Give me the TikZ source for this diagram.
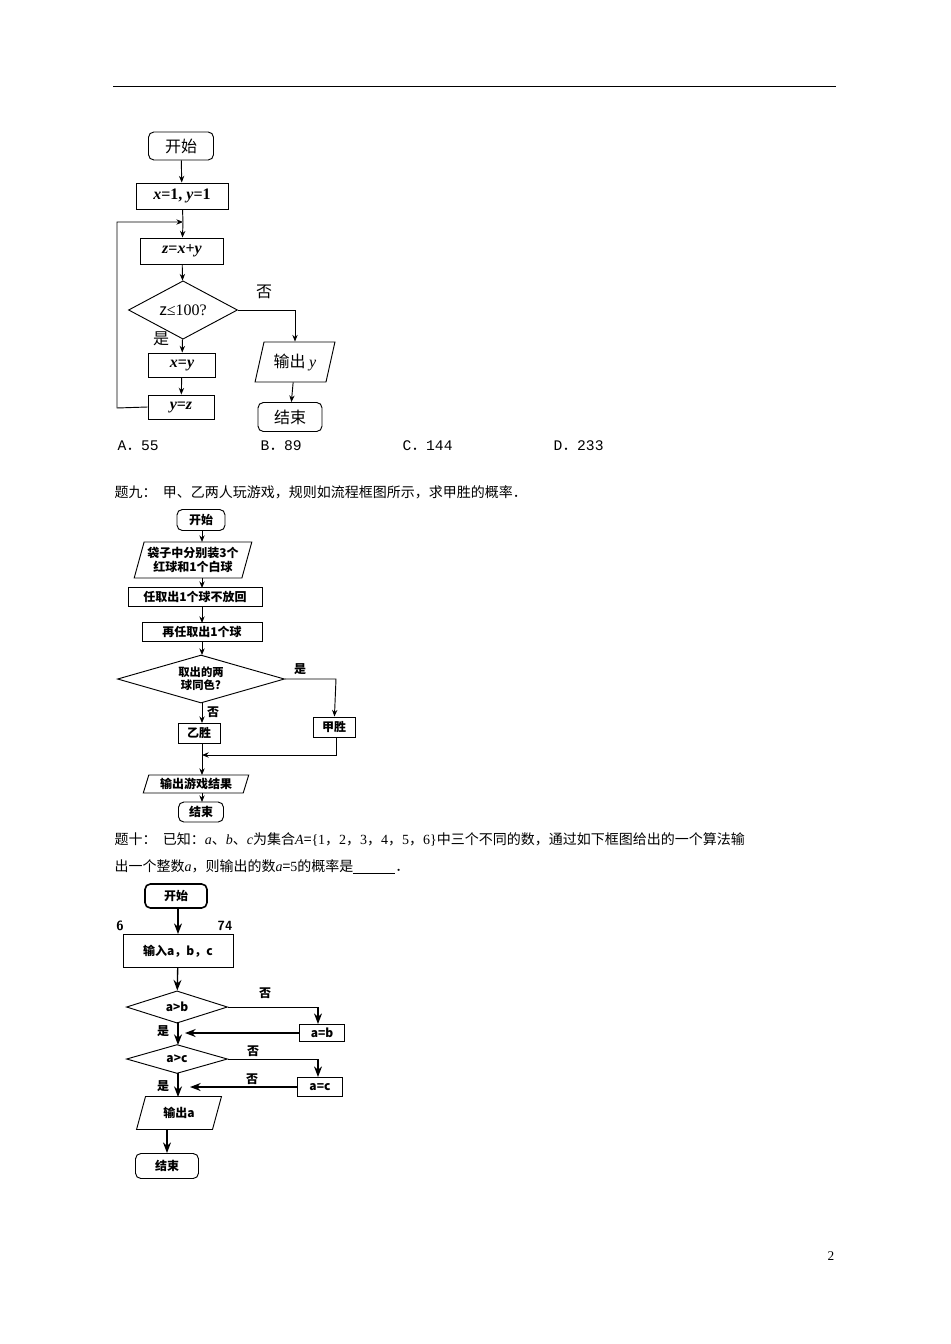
\documentclass[tikz,border=0pt]{standalone}
\usepackage{fontspec}
\setmainfont{Noto Sans CJK SC}
\newfontfamily\lat{Liberation Serif}
\newfontfamily\mono{Liberation Mono}
\usetikzlibrary{shapes.geometric,arrows.meta}
\begin{document}
\begin{tikzpicture}[x=0.75pt,y=-0.75pt,
  sz/.style 2 args={minimum width=#1*0.75pt, minimum height=#2*0.75pt, inner sep=0pt},
  bx/.style={draw, line width=0.7pt},
  rbx/.style={draw, line width=0.7pt, rounded corners=4pt},
  para/.style={draw, line width=0.7pt, trapezium, trapezium left angle=70, trapezium right angle=110, trapezium stretches=true},
  dia/.style={draw, line width=0.7pt, diamond, inner sep=0pt, shape aspect=1},
  ar/.style={-{Stealth[length=5pt,width=4pt]}, line width=0.7pt},
  arb/.style={-{Stealth[length=8pt,width=6pt]}, line width=1pt},
  ln/.style={line width=0.7pt}]
\useasboundingbox (0,0) rectangle (950,1344);
\draw[line width=0.6pt] (113,86) -- (836,86);
% ---------- chart 1
\begin{scope}[font=\fontsize{12}{14}\selectfont]
\node[rbx, sz={65}{28}] (s1) at (181,146) {开始};
\node[bx, sz={92}{26}] (i1) at (182,196) {\lat\bfseries\itshape x\upshape =1, \itshape y\upshape =1};
\node[bx, sz={83}{26}] (z1) at (182,251) {\lat\bfseries\itshape z\upshape =\itshape x\upshape +\itshape y};
\node[dia, sz={109}{52}] (d1) at (183,310) {z{\lat ≤}\lat 100?};
\node[bx, sz={67}{24}] (x1) at (182,365) {\lat\bfseries\itshape x\upshape =\itshape y};
\node[bx, sz={66}{24}] (y1) at (181,407) {\lat\bfseries\itshape y\upshape =\itshape z};
\node[para, sz={80}{40}] (o1) at (295,362) {输出 {\lat\itshape y}};
\node[rbx, sz={64}{29}] (e1) at (290,417) {结束};
\node (no1) at (264,292) {否};
\node (ye1) at (161,339) {是};
\coordinate (j1) at (183,222);
\coordinate (l1) at (117,222);
\coordinate (l2) at (117,408);
\coordinate (r1) at (295,310);
\draw[ar] (s1) -- (i1);
\draw[ln] (i1) -- (j1);
\draw[ar] (j1) -- (z1);
\draw[ar] (z1) -- (d1);
\draw[ar] (d1) -- (x1);
\draw[ar] (x1) -- (y1);
\draw[ar] (y1.west) -- (l2) -- (l1) -- (j1);
\draw[ar] (d1.east) -- (r1) -- (o1);
\draw[ar] (o1) -- (e1);
\end{scope}
\begin{scope}[font=\fontsize{11}{13}\selectfont]
\node[anchor=west] (oa) at (113,446) {{\mono A}．{\mono 55}};
\node[anchor=west] (ob) at (256,446) {{\mono B}．{\mono 89}};
\node[anchor=west] (oc) at (398,446) {{\mono C}．{\mono 144}};
\node[anchor=west] (od) at (549,446) {{\mono D}．{\mono 233}};
\end{scope}
% ---------- chart 2
\node[anchor=west, font=\fontsize{10.5}{13}\selectfont] (t9) at (110,492) {题九：\ \ 甲、乙两人玩游戏，规则如流程框图所示，求甲胜的概率．};
\begin{scope}[font=\bfseries\fontsize{9}{10.5}\selectfont]
\node[rbx, sz={48}{21}] (s2) at (201,520) {开始};
\node[para, sz={118}{36}, align=center] (p2) at (193,560) {袋子中分别装3个\\红球和1个白球};
\node[bx, sz={134}{19}] (b21) at (195,597) {任取出1个球不放回};
\node[bx, sz={120}{19}] (b22) at (202,632) {再任取出1个球};
\node[dia, shape aspect=3.4, sz={167}{48}, align=center, font=\bfseries\fontsize{8.5}{9.5}\selectfont] (d2) at (201,679) {取出的两\\球同色?};
\node[bx, sz={42}{20}] (jw) at (334,727) {甲胜};
\node[bx, sz={42}{20}] (yw) at (199,733) {乙胜};
\node[para, sz={106}{18}] (o2) at (196,784) {输出游戏结果};
\node[rbx, sz={45}{20}] (e2) at (201,812) {结束};
\node (ye2) at (300,669) {是};
\node (no2) at (213,712) {否};
\coordinate (c21) at (202,531);
\coordinate (c22) at (202,542);
\coordinate (c23) at (202,578);
\coordinate (c24) at (202,588);
\coordinate (c25) at (202,607);
\coordinate (c26) at (202,623);
\coordinate (c27) at (202,642);
\coordinate (c28) at (202,655);
\coordinate (c29) at (202,703);
\coordinate (c2a) at (202,723);
\coordinate (c2b) at (202,743);
\coordinate (c2c) at (202,755);
\coordinate (c2d) at (202,775);
\coordinate (c2e) at (202,793);
\coordinate (c2f) at (202,802);
\coordinate (r2) at (336,679);
\coordinate (r3) at (336,755);
\draw[ar] (c21) -- (c22);
\draw[ar] (c23) -- (c24);
\draw[ar] (c25) -- (c26);
\draw[ar] (c27) -- (c28);
\draw[ar] (c29) -- (c2a);
\draw[ln] (c2b) -- (c2c);
\draw[ar] (c2c) -- (c2d);
\draw[ar] (c2e) -- (c2f);
\draw[ar] (d2.east) -- (r2) -- (jw);
\draw[ar] (jw.south -| r3) -- (r3) -- (c2c);
\end{scope}
% ---------- chart 3
\begin{scope}[font=\fontsize{10.5}{13}\selectfont]
\node[anchor=west] (t10a) at (110,840) {题十：\ \ 已知：{\lat\itshape a}、{\lat\itshape b}、{\lat\itshape c}为集合{\lat\itshape A}={\lat\{1}，{\lat 2}，{\lat 3}，{\lat 4}，{\lat 5}，{\lat 6\}}中三个不同的数，通过如下框图给出的一个算法输};
\node[anchor=west] (t10b) at (110,867) {出一个整数{\lat\itshape a}，则输出的数{\lat\itshape a}={\lat 5}的概率是\underline{\hspace{3em}}．};
\end{scope}
\begin{scope}[font=\bfseries\fontsize{9}{11}\selectfont]
\node[rbx, line width=1.2pt, sz={62}{24}] (s3) at (176,896) {开始};
\node[font=\sffamily\bfseries\fontsize{10}{12}\selectfont] (n6) at (120,926) {6};
\node[font=\sffamily\bfseries\fontsize{10}{12}\selectfont] (n74) at (225,926) {74};
\node[bx, sz={110}{33}] (in3) at (178,951) {输入a，b，c};
\node[dia, sz={101}{30}] (d31) at (177,1007) {a>b};
\node[bx, sz={45}{17}] (ab) at (322,1033) {a=b};
\node[dia, sz={101}{28}] (d32) at (177,1059) {a>c};
\node[bx, sz={45}{19}] (ac) at (320,1087) {a=c};
\node[para, sz={85}{33}] (o3) at (179,1113) {输出a};
\node[rbx, sz={63}{25}] (e3) at (167,1166) {结束};
\node (no31) at (265,993) {否};
\node (no32) at (253,1051) {否};
\node (no33) at (252,1079) {否};
\node (ye31) at (163,1031) {是};
\node (ye32) at (163,1086) {是};
\coordinate (c31) at (178,1022);
\coordinate (c32) at (178,1045);
\coordinate (c33) at (178,1073);
\coordinate (c34) at (178,1097);
\coordinate (m31) at (185,1033);
\coordinate (m32) at (190,1087);
\coordinate (r31) at (318,1007);
\coordinate (r32) at (318,1059);
\draw[arb] (s3.south -| in3) -- (in3);
\draw[arb] (in3) -- (d31);
\draw[arb] (c31) -- (c32);
\draw[arb] (c33) -- (c34);
\draw[arb] (o3.south -| e3) -- (e3);
\draw[ln] (d31.east) -- (r31);
\draw[arb] (r31) -- (r31 |- ab.north);
\draw[ln] (d32.east) -- (r32);
\draw[arb] (r32) -- (r32 |- ac.north);
\draw[arb] (ab.west) -- (m31);
\draw[arb] (ac.west) -- (m32);
\end{scope}
\node[font=\lat\fontsize{10}{12}\selectfont] (pg) at (831,1256) {2};
\end{tikzpicture}
\end{document}
